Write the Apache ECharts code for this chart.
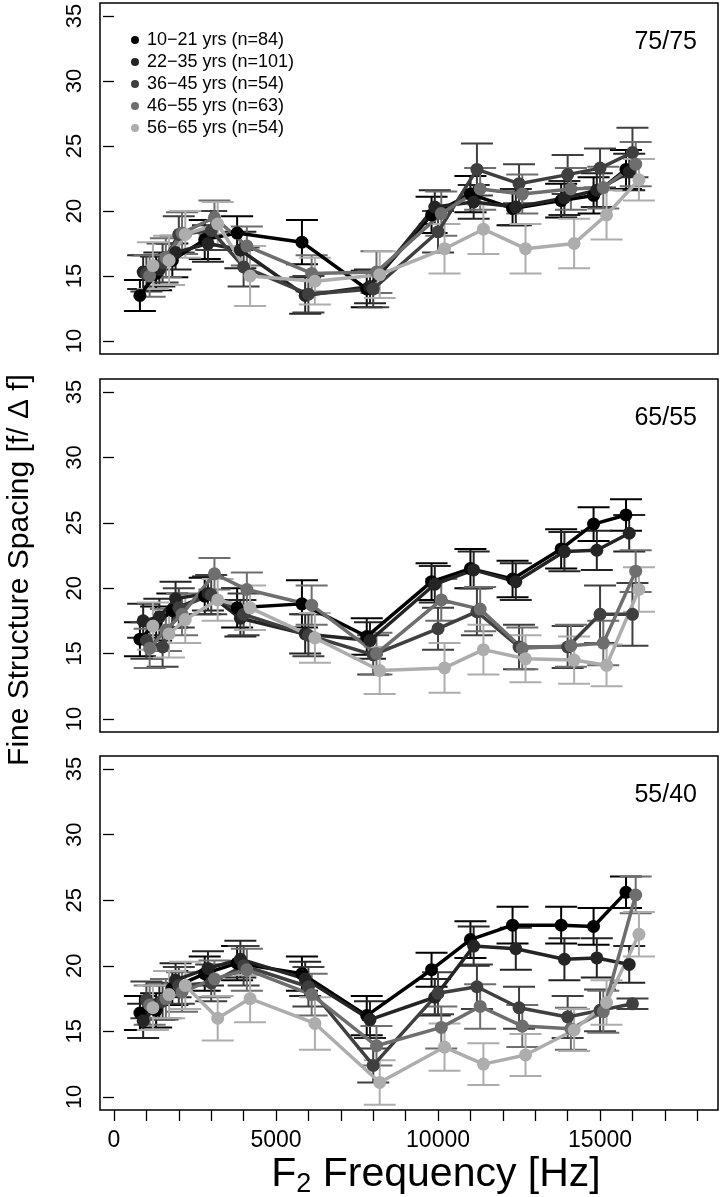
<!DOCTYPE html>
<html>
<head>
<meta charset="utf-8">
<script src="https://cdn.jsdelivr.net/npm/echarts@6/dist/echarts.min.js"></script>
<style>html,body{margin:0;padding:0;background:#fff;}#c{width:720px;height:1197px;}</style>
</head>
<body>
<div id="c"></div>
<script>
// ---------------- data ----------------
const freqs = [1000, 1500, 2000, 3000, 4000, 6000, 8000, 10000, 11200, 12500, 14000, 15000, 16000];
const groups = ['10\u221221 yrs (n=84)', '22\u221235 yrs (n=101)', '36\u221245 yrs (n=54)', '46\u221255 yrs (n=63)', '56\u221265 yrs (n=54)'];
const panelLabels = ['75/75', '65/55', '55/40'];
const xTicks = [0,1000,2000,3000,4000,5000,6000,7000,8000,9000,10000,11000,12000,13000,14000,15000,16000,17000,18000];
const xLabels = [0, 5000, 10000, 15000];
const yTicks = [10, 15, 20, 25, 30, 35];
// horizontal dodge of the groups (Hz)
const dodge = [-200, -100, 0, 100, 200];

// panel 1 : 75/75
const p1_g1 = [13.5,15.2,16.2,17.8,18.3,17.6,14.0, 19.7,21.3,20.2,20.8,21.2,23.2];
const p1_g2 = [15.3,15.5,16.8,17.5,17.0,13.5,14.2, 20.3,20.7,20.3,21.0,21.6,23.0];
const p1_g3 = [15.2,16.0,18.2,18.5,15.7,13.6,14.0, 18.4,23.2,22.1,22.8,23.3,24.5];
const p1_g4 = [15.0,16.4,18.3,19.5,17.3,15.2,15.3, 19.8,21.7,21.3,21.7,21.8,23.6];
const p1_g5 = [15.8,16.2,18.2,19.0,15.0,14.6,15.1, 17.1,18.6,17.1,17.5,19.7,22.4];
const p1_e1 = [1.2,1.3,1.3,1.5,1.3,1.7,1.4, 1.4,1.4,1.3,1.3,1.4,1.5];
const p1_e2 = [1.3,1.3,1.3,1.4,1.4,1.4,1.3, 1.3,1.3,1.4,1.3,1.3,1.4];
const p1_e3 = [1.4,1.5,1.4,1.5,1.5,1.4,1.4, 1.6,2.0,1.5,1.5,1.5,1.9];
const p1_e4 = [1.6,1.5,1.6,1.3,1.5,1.4,1.6, 1.7,1.6,1.5,1.6,1.6,1.7];
const p1_e5 = [1.8,1.9,1.8,1.7,2.3,1.8,1.8, 1.9,1.9,1.9,1.9,1.9,1.6];

// panel 2 : 65/55
const p2_g1 = [16.1,17.3,18.3,19.4,18.5,18.8,16.3, 20.5,21.5,20.7,23.0,24.9,25.6];
const p2_g2 = [17.5,17.8,19.2,19.6,17.7,16.5,16.0, 20.3,21.4,20.5,22.8,22.9,24.2];
const p2_g3 = [16.0,15.5,18.5,19.5,18.0,16.4,14.9, 16.9,18.2,15.5,15.5,18.0,18.0];
const p2_g4 = [15.4,16.8,18.0,21.1,19.9,18.7,15.0, 19.1,18.4,15.4,15.6,15.8,21.3];
const p2_g5 = [17.1,16.5,17.6,19.1,18.5,16.2,13.7, 13.9,15.3,14.6,14.5,14.1,19.9];
const p2_e1 = [1.3,1.3,1.3,1.4,1.5,1.8,1.4, 1.4,1.5,1.4,1.5,1.3,1.2];
const p2_e2 = [1.3,1.4,1.3,1.3,1.4,1.5,1.4, 1.4,1.4,1.4,1.5,1.5,1.4];
const p2_e3 = [1.4,1.5,1.5,1.5,1.6,1.6,1.5, 1.6,1.8,1.7,1.6,2.2,2.4];
const p2_e4 = [1.5,1.6,1.6,1.2,1.3,1.5,1.6, 1.6,1.7,1.6,1.6,1.7,1.6];
const p2_e5 = [1.8,1.8,1.8,1.6,1.7,1.9,1.8, 1.9,1.9,1.8,1.8,1.6,1.7];

// panel 3 : 55/40
const p3_g1 = [16.4,16.6,18.3,19.4,20.2,19.4,16.2, 19.7,22.0,23.1,23.1,23.0,25.6];
const p3_g2 = [15.8,17.2,18.9,19.8,20.5,19.0,15.9, 17.6,21.5,21.3,20.5,20.6,20.1];
const p3_g3 = [17.4,17.3,18.5,18.7,20.0,18.4,12.4, 17.9,18.4,16.8,16.1,16.6,17.1];
const p3_g4 = [17.0,17.5,18.0,19.0,19.7,17.8,13.9, 15.3,16.9,15.4,15.2,16.5,25.4];
const p3_g5 = [16.8,17.8,18.5,16.0,17.5,15.6,11.1, 13.8,12.5,13.2,15.1,17.2,22.4];
const p3_e1 = [1.3,1.3,1.3,1.3,1.3,1.3,1.5, 1.3,1.4,1.4,1.4,1.4,1.2];
const p3_e2 = [1.3,1.3,1.3,1.3,1.4,1.3,1.4, 1.4,1.5,1.6,1.6,1.5,1.4];
const p3_e3 = [1.4,1.4,1.4,1.4,1.5,1.5,1.3, 1.6,1.7,1.6,1.6,1.6,0.4];
const p3_e4 = [1.5,1.5,1.5,1.4,1.6,1.6,1.5, 1.6,1.7,1.6,1.6,1.6,1.4];
const p3_e5 = [1.7,1.8,1.8,1.7,1.8,2.0,1.7, 1.8,1.6,1.6,1.6,1.7,1.7];

const means = [[p1_g1,p1_g2,p1_g3,p1_g4,p1_g5],[p2_g1,p2_g2,p2_g3,p2_g4,p2_g5],[p3_g1,p3_g2,p3_g3,p3_g4,p3_g5]];
const errs  = [[p1_e1,p1_e2,p1_e3,p1_e4,p1_e5],[p2_e1,p2_e2,p2_e3,p2_e4,p2_e5],[p3_e1,p3_e2,p3_e3,p3_e4,p3_e5]];

// ---------------- style ----------------
const colors = ['#000000', '#242424', '#3f3f3f', '#6e6e6e', '#adadad'];
const FONT = "'Liberation Sans', Arial, Helvetica, sans-serif";
const panelTops = [3, 379, 756];
const panelHeights = [351, 353, 354];

const grids = [], xAxes = [], yAxes = [], series = [], graphics = [];
for (let p = 0; p < 3; p++) {
  grids.push({left: 100, right: 2, top: panelTops[p], height: panelHeights[p], show: true,
    borderColor: '#000', borderWidth: 1.5, backgroundColor: 'transparent', containLabel: false});
  const bottom = p === 2;
  xAxes.push({type: 'value', gridIndex: p, min: -432, max: 18640,
    axisLine: {show: false}, splitLine: {show: false},
    axisTick: {show: bottom, inside: false, length: 11, lineStyle: {color: '#000', width: 1.3}, customValues: xTicks},
    axisLabel: {show: bottom, margin: 19, color: '#000', fontSize: 23, fontFamily: FONT, customValues: xLabels,
      formatter: function (v) { return String(v); }}
  });
  yAxes.push({type: 'value', gridIndex: p, min: 9, max: 36,
    axisLine: {show: false}, splitLine: {show: false},
    axisTick: {show: true, inside: false, length: 11, lineStyle: {color: '#000', width: 1.3}, customValues: yTicks},
    axisLabel: {show: true, rotate: 90, margin: 14, color: '#000', fontSize: 22, fontFamily: FONT, customValues: yTicks,
      formatter: function (v) { return String(v); }}
  });
  for (let g = 0; g < 5; g++) {
    const m = means[p][g], e = errs[p][g];
    const pts = freqs.map((f, i) => [f + dodge[g], m[i]]);
    const bars = freqs.map((f, i) => [f + dodge[g], m[i], m[i] - e[i], m[i] + e[i]]);
    const col = colors[g];
    series.push({
      type: 'custom', xAxisIndex: p, yAxisIndex: p, silent: true,
      data: bars, encode: {x: 0, y: [2, 3]},
      renderItem: function (params, api) {
        const x = api.value(0);
        const lo = api.coord([x, api.value(2)]);
        const hi = api.coord([x, api.value(3)]);
        const hw = 16;
        const st = {stroke: col, lineWidth: 2};
        return {type: 'group', children: [
          {type: 'line', shape: {x1: lo[0], y1: lo[1], x2: hi[0], y2: hi[1]}, style: st},
          {type: 'line', shape: {x1: lo[0] - hw, y1: lo[1], x2: lo[0] + hw, y2: lo[1]}, style: st},
          {type: 'line', shape: {x1: hi[0] - hw, y1: hi[1], x2: hi[0] + hw, y2: hi[1]}, style: st}
        ]};
      }
    });
    series.push({
      type: 'line', name: groups[g], xAxisIndex: p, yAxisIndex: p,
      data: pts, symbol: 'circle', symbolSize: 13, showSymbol: true,
      lineStyle: {color: col, width: 3.5}, itemStyle: {color: col},
      emphasis: {disabled: true}
    });
  }
  graphics.push({type: 'text', right: 23, top: panelTops[p] + 27,
    style: {text: panelLabels[p], font: '25px ' + FONT, fill: '#000'}});
}

graphics.push({type: 'text', x: 20, y: 570, rotation: Math.PI / 2,
  style: {text: 'Fine Structure Spacing [f/ \u0394 f]', font: '30px ' + FONT, fill: '#000',
    textAlign: 'center', textVerticalAlign: 'middle'}});

graphics.push({type: 'text', x: 436, y: 1175,
  style: {
    text: '{a|F}{s|2}{a| Frequency [Hz]}',
    rich: {a: {fontSize: 41, fontFamily: FONT, color: '#000'},
           s: {fontSize: 27, fontFamily: FONT, color: '#000', padding: [20, 0, 0, 0]}},
    textAlign: 'center', textVerticalAlign: 'middle'}});

const chart = echarts.init(document.getElementById('c'), null, {renderer: 'canvas'});
chart.setOption({
  animation: false,
  backgroundColor: '#fff',
  grid: grids, xAxis: xAxes, yAxis: yAxes, series: series,
  legend: {show: true, left: 126, top: 25, orient: 'vertical', icon: 'circle',
    itemWidth: 8, itemHeight: 8, itemGap: 2, selectedMode: false,
    data: groups,
    textStyle: {fontSize: 18, lineHeight: 20, fontFamily: FONT, color: '#000', padding: [0, 0, 0, 3]}},
  graphic: graphics
});
</script>
</body>
</html>
